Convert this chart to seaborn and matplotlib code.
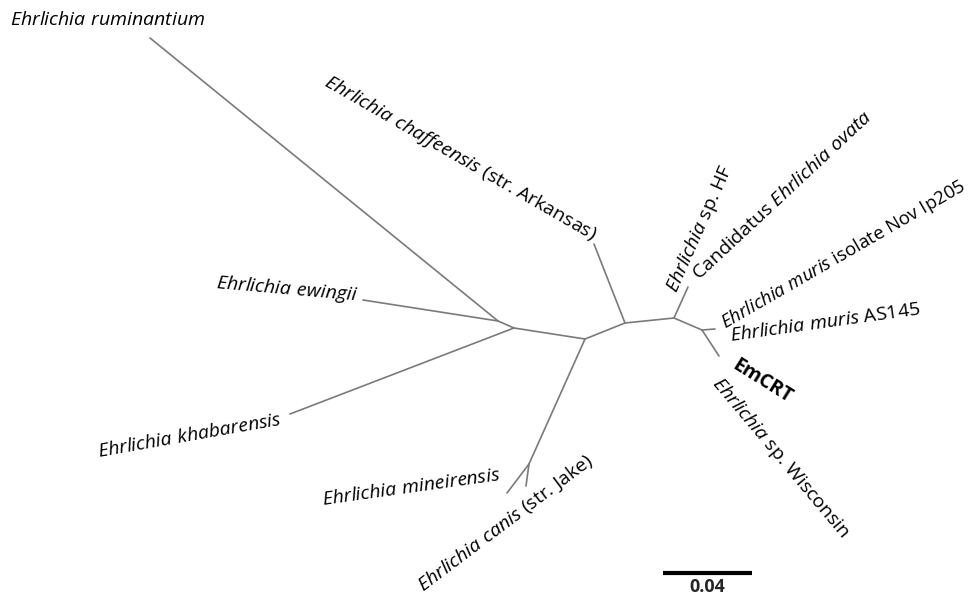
import matplotlib
matplotlib.use("Agg")
import matplotlib.pyplot as plt
import pandas as pd
import seaborn as sns

# node positions (layout units = pixels, y down)
node_names = ["A", "B", "C", "D", "E", "F", "G", "H",
              "rumin", "ewing", "khab", "mine", "canis", "chaff", "muris", "wisc"]
node_x = [498, 514, 585, 529, 625, 674, 702, 688,
          150, 363, 290, 507, 526, 594, 715, 719]
node_y = [321, 328, 339, 464, 323, 318, 330, 287,
          38, 300, 414, 493, 486, 244, 329, 356]

edge_from = ["A", "A", "A", "B", "B", "C", "D", "D", "C", "E", "E", "F", "F", "G", "G"]
edge_to = ["rumin", "ewing", "B", "khab", "C", "D", "mine", "canis", "E", "chaff", "F", "H", "G", "muris", "wisc"]

# labels: text, centre x, centre y, rotation, weight
labels = [
    r"$\mathit{Ehrlichia\ ruminantium}$",
    r"$\mathit{Ehrlichia\ chaffeensis}$ (str. Arkansas)",
    r"$\mathit{Ehrlichia\ ewingii}$",
    r"$\mathit{Ehrlichia\ khabarensis}$",
    r"$\mathit{Ehrlichia\ mineirensis}$",
    r"$\mathit{Ehrlichia\ canis}$ (str. Jake)",
    r"$\mathit{Ehrlichia}$ sp. HF",
    r"Candidatus $\mathit{Ehrlichia\ ovata}$",
    r"$\mathit{Ehrlichia\ muris}$ isolate Nov Ip205",
    r"$\mathit{Ehrlichia\ muris}$ AS145",
    "EmCRT",
    r"$\mathit{Ehrlichia}$ sp. Wisconsin",
]
label_x = [108, 460, 287, 190, 411, 505, 700, 782, 843, 825, 762, 781]
label_y = [20, 158, 289, 436, 488, 523, 229, 196, 255, 323, 381, 458]
label_rot = [0, -30, -5, 10, 8, 37, 66, 43, 30, 8, -32, -50]
label_size = [14, 14, 14, 14, 14, 14, 14, 14, 13.4, 14, 14, 14]
label_bold = [False] * 10 + [True, False]

scale_len = 89  # 0.04 substitutions/site
scale_x0, scale_y = 663, 573

sns.set_style("white")
plt.rcParams["font.family"] = ["Open Sans", "DejaVu Sans"]
plt.rcParams["mathtext.fontset"] = "custom"
plt.rcParams["mathtext.it"] = "Open Sans:italic"
plt.rcParams["mathtext.rm"] = "Open Sans"

pos = dict(zip(node_names, zip(node_x, node_y)))
rows = []
for i, (a, b) in enumerate(zip(edge_from, edge_to)):
    for n in (a, b):
        rows.append({"edge": i, "x": pos[n][0], "y": pos[n][1]})
edges = pd.DataFrame(rows)

fig = plt.figure(figsize=(9.72, 5.95), dpi=100)
ax = fig.add_axes([0, 0, 1, 1])
sns.lineplot(data=edges, x="x", y="y", units="edge", estimator=None, sort=False,
             color="#7a7a7a", linewidth=1.2, ax=ax)

for t, x, y, r, s, b in zip(labels, label_x, label_y, label_rot, label_size, label_bold):
    ax.text(x, y, t, rotation=r, rotation_mode="anchor", ha="center", va="center",
            fontsize=s, fontweight="bold" if b else "normal", color="black")

ax.plot([scale_x0, scale_x0 + scale_len], [scale_y, scale_y], color="black", linewidth=3,
        solid_capstyle="butt")
ax.text(scale_x0 + scale_len / 2, scale_y + 14, "0.04", ha="center", va="center",
        fontsize=13, fontweight="bold")

ax.set_xlim(0, 972)
ax.set_ylim(595, 0)
ax.axis("off")
fig.savefig("out.png", dpi=100, facecolor="white")
